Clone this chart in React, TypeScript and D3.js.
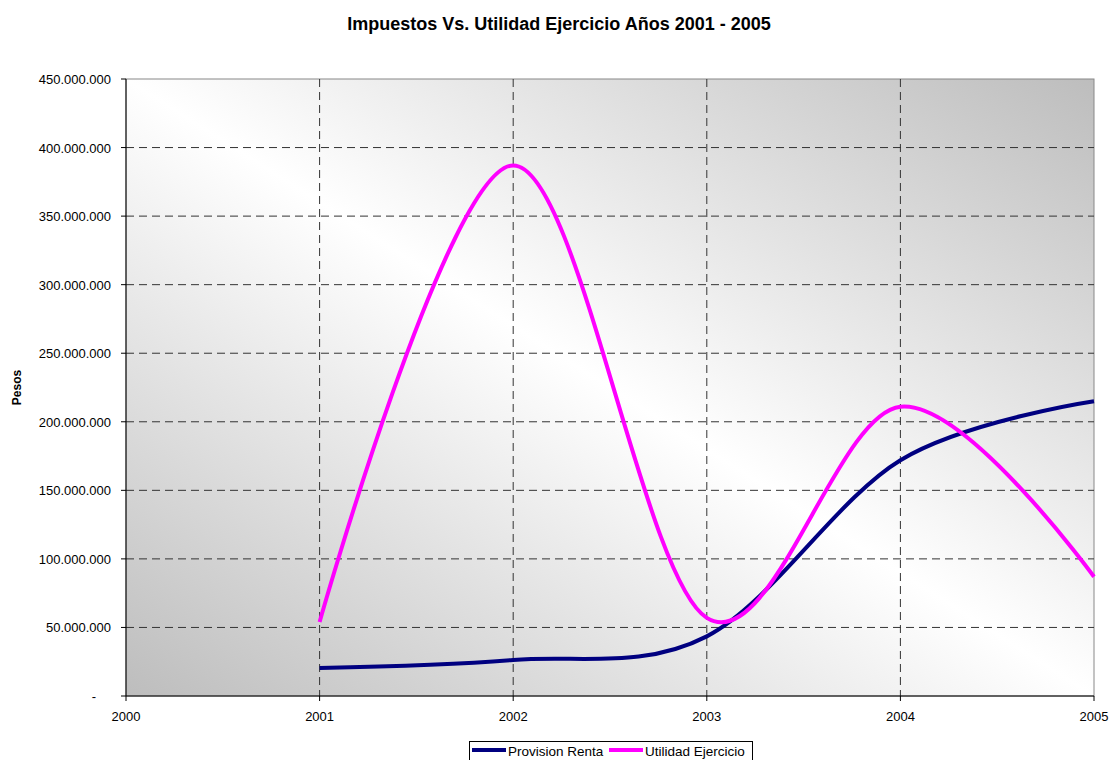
import React from "react";
import * as d3 from "d3";

const years = [2001, 2002, 2003, 2004, 2005];
const provisionRenta = [20500000, 26300000, 43500000, 172000000, 215000000];
const utilidadEjercicio = [54000000, 387000000, 57000000, 211000000, 87000000];
const xTicks = [2000, 2001, 2002, 2003, 2004, 2005];
const yTicks = [0, 50000000, 100000000, 150000000, 200000000, 250000000, 300000000, 350000000, 400000000, 450000000];
const seriesNames = ["Provision Renta", "Utilidad Ejercicio"];
const seriesColors = ["#000080", "#ff00ff"];

const W = 1111, H = 760;
const L = 126, R = 1094, T = 79, B = 696;

function fmt(v: number) {
  if (v === 0) return "-";
  return d3.format(",")(v).replace(/,/g, ".");
}

export default function App() {
  const x = d3.scaleLinear().domain([2000, 2005]).range([L, R]);
  const y = d3.scaleLinear().domain([0, 450000000]).range([B, T]);
  const line = d3
    .line<[number, number]>()
    .x((d) => x(d[0]))
    .y((d) => y(d[1]))
    .curve(d3.curveCardinal.tension(0));
  const series = [provisionRenta, utilidadEjercicio];
  const font = "'Liberation Sans', Arial, sans-serif";
  return (
    <svg width={W} height={H} style={{ position: "absolute", left: 0, top: 0, display: "block" }} fontFamily={font}>
      <defs>
        <linearGradient id="bg" x1="0" y1="1" x2="1" y2="0">
          <stop offset="0" stopColor="#bdbdbd" />
          <stop offset="0.5" stopColor="#ffffff" />
          <stop offset="1" stopColor="#bdbdbd" />
        </linearGradient>
      </defs>
      <rect x={0} y={0} width={W} height={H} fill="#fff" />
      <text x={559} y={30} textAnchor="middle" fontSize={18} fontWeight="bold" fill="#000">
        Impuestos Vs. Utilidad Ejercicio Años 2001 - 2005
      </text>
      <rect x={L} y={T} width={R - L} height={B - T} fill="url(#bg)" stroke="#888" strokeWidth={1} />
      {yTicks.slice(1, -1).map((t) => (
        <line key={"gy" + t} x1={L} x2={R} y1={y(t)} y2={y(t)} stroke="#333" strokeDasharray="8,5" strokeWidth={1} />
      ))}
      {xTicks.slice(1, -1).map((t) => (
        <line key={"gx" + t} x1={x(t)} x2={x(t)} y1={T} y2={B} stroke="#333" strokeDasharray="8,5" strokeWidth={1} />
      ))}
      <line x1={L} x2={L} y1={T} y2={B} stroke="#000" strokeWidth={1} />
      <line x1={L} x2={R} y1={B} y2={B} stroke="#000" strokeWidth={1} />
      {yTicks.map((t) => (
        <g key={"yt" + t}>
          <line x1={L - 5} x2={L} y1={y(t)} y2={y(t)} stroke="#000" />
          <text x={t === 0 ? 96 : 111} y={y(t) + 5} textAnchor="end" fontSize={13} fill="#000">
            {fmt(t)}
          </text>
        </g>
      ))}
      {xTicks.map((t) => (
        <g key={"xt" + t}>
          <line x1={x(t)} x2={x(t)} y1={B} y2={B + 5} stroke="#000" />
          <text x={x(t)} y={B + 25} textAnchor="middle" fontSize={13} fill="#000">
            {t}
          </text>
        </g>
      ))}
      <text transform={`translate(21,${(T + B) / 2}) rotate(-90)`} textAnchor="middle" fontSize={12} fontWeight="bold" fill="#000">
        Pesos
      </text>
      {series.map((s, i) => (
        <path
          key={seriesNames[i]}
          d={line(years.map((yr, j) => [yr, s[j]] as [number, number])) || ""}
          fill="none"
          stroke={seriesColors[i]}
          strokeWidth={4}
          strokeLinejoin="round"
        />
      ))}
      <g>
        <rect x={469.5} y={741.5} width={283} height={24} fill="#fff" stroke="#000" strokeWidth={1} />
        <line x1={472} x2={506} y1={750} y2={750} stroke={seriesColors[0]} strokeWidth={4} />
        <text x={508} y={756} fontSize={13.5} fill="#000">{seriesNames[0]}</text>
        <line x1={609} x2={643} y1={750} y2={750} stroke={seriesColors[1]} strokeWidth={4} />
        <text x={645} y={756} fontSize={13.5} fill="#000">{seriesNames[1]}</text>
      </g>
    </svg>
  );
}
